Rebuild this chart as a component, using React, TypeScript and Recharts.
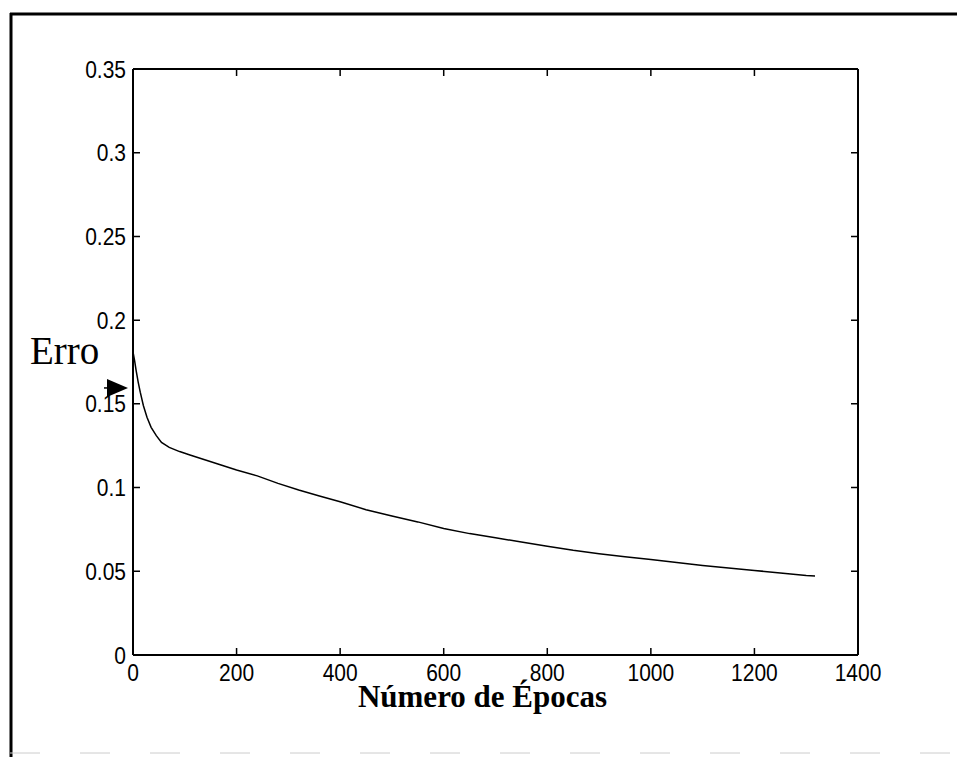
import React from "react";
import { LineChart, Line, XAxis, YAxis, ReferenceDot, ReferenceLine } from "recharts";

const epochs = [0, 3, 6, 10, 14, 20, 27, 35, 45, 55, 70, 90, 110, 140, 170, 200, 240, 280, 320, 360, 400, 450, 500, 550, 600, 650, 700, 750, 800, 850, 900, 950, 1000, 1050, 1100, 1150, 1200, 1250, 1300, 1317];
const errors = [0.181, 0.176, 0.170, 0.163, 0.157, 0.149, 0.142, 0.136, 0.131, 0.127, 0.124, 0.1215, 0.1195, 0.1165, 0.1135, 0.1105, 0.107, 0.1025, 0.0985, 0.095, 0.0915, 0.0868, 0.083, 0.0795, 0.0755, 0.0725, 0.070, 0.0675, 0.065, 0.0625, 0.0605, 0.0587, 0.057, 0.0553, 0.0535, 0.052, 0.0505, 0.049, 0.0475, 0.0472];
const xTicks = [0, 200, 400, 600, 800, 1000, 1200, 1400];
const yTicks = [0, 0.05, 0.1, 0.15, 0.2, 0.25, 0.3, 0.35];
const xTitle = "Número de Épocas";
const yTitle = "Erro";
const arrowValue = 0.1595;
const xMax = 1400;
const yMax = 0.35;

const data = epochs.map((e, i) => ({ epoch: e, erro: errors[i] }));

const W = 957;
const H = 757;
const MARGIN = { top: 69, right: 99, bottom: 60, left: 73 };
const Y_AXIS_W = 60;
const X_AXIS_H = 42;
const PLOT_RIGHT = W - MARGIN.right;
const PLOT_TOP = MARGIN.top;

const TICK_FONT = "'Liberation Sans', Arial, sans-serif";
const SERIF = "'Liberation Serif', 'Times New Roman', serif";
const AXIS_LINE = { stroke: "#000", strokeWidth: 2 };
const TL = 7;
const Y_MARGIN = 7;
const X_MARGIN = 10;

const LeftTick = (p: any) => {
  const ax = p.x + Y_MARGIN;
  return (
    <g>
      <path d={`M${ax},${p.y}H${ax + TL}M${PLOT_RIGHT - TL},${p.y}H${PLOT_RIGHT}`} stroke="#000" strokeWidth={1.5} fill="none" />
      <text
        transform={`translate(${p.x},${p.y + 8.5}) scale(1,1.15)`}
        textAnchor="end"
        fontFamily={TICK_FONT}
        fontSize={21}
        fill="#000"
        stroke="none"
      >
        {String(p.payload.value)}
      </text>
    </g>
  );
};

const BottomTick = (p: any) => {
  const ay = p.y - X_MARGIN;
  return (
    <g>
      <path d={`M${p.x},${ay}V${ay - TL}M${p.x},${PLOT_TOP}V${PLOT_TOP + TL}`} stroke="#000" strokeWidth={1.5} fill="none" />
      <text
        transform={`translate(${p.x},${p.y + 16}) scale(1,1.12)`}
        textAnchor="middle"
        fontFamily={TICK_FONT}
        fontSize={21}
        fill="#000"
        stroke="none"
      >
        {String(p.payload.value)}
      </text>
    </g>
  );
};

const ArrowShape = (p: any) => {
  const { cx, cy } = p;
  return (
    <g>
      <text x={cx - 103} y={cy - 24} fontFamily={SERIF} fontSize={39} fill="#000">
        {yTitle}
      </text>
      <line x1={cx - 29} x2={cx - 20} y1={cy} y2={cy} stroke="#000" strokeWidth={1.5} />
      <polygon points={`${cx - 26},${cy - 9} ${cx - 5},${cy} ${cx - 26},${cy + 9}`} fill="#000" />
    </g>
  );
};

const XTitle = (p: any) => {
  const vb = p.viewBox || {};
  return (
    <text
      x={vb.x + vb.width / 2 - 13}
      y={vb.y + 52}
      textAnchor="middle"
      fontFamily={SERIF}
      fontWeight="bold"
      fontSize={31}
      fill="#000"
    >
      {xTitle}
    </text>
  );
};

export default function App() {
  return (
    <div style={{ position: "absolute", left: 0, top: 0, width: W, height: H, overflow: "hidden", background: "#fff" }}>
      <svg width={W} height={H} style={{ position: "absolute", left: 0, top: 0 }}>
        <line x1={11} x2={11} y1={13} y2={H} stroke="#000" strokeWidth={3} />
        <line x1={10} x2={W} y1={14} y2={14} stroke="#000" strokeWidth={3} />
        <line x1={10} x2={W} y1={753} y2={753} stroke="#ccc" strokeWidth={1} strokeDasharray="30 40" />
      </svg>
      <div style={{ position: "absolute", left: 0, top: 0 }}>
        <LineChart width={W} height={H} data={data} margin={MARGIN}>
          <XAxis
            dataKey="epoch"
            type="number"
            domain={[0, xMax]}
            ticks={xTicks}
            height={X_AXIS_H}
            axisLine={AXIS_LINE}
            tickLine={false}
            tickSize={0}
            tickMargin={X_MARGIN}
            tick={<BottomTick />}
            interval={0}
            label={<XTitle />}
          />
          <YAxis
            type="number"
            domain={[0, yMax]}
            ticks={yTicks}
            width={Y_AXIS_W}
            axisLine={AXIS_LINE}
            tickLine={false}
            tickSize={0}
            tickMargin={Y_MARGIN}
            tick={<LeftTick />}
            interval={0}
          />
          <ReferenceLine x={xMax} stroke="#000" strokeWidth={2} ifOverflow="visible" />
          <ReferenceLine y={yMax} stroke="#000" strokeWidth={2} ifOverflow="visible" />
          <Line
            dataKey="erro"
            type="linear"
            stroke="#000"
            strokeWidth={1.5}
            dot={false}
            isAnimationActive={false}
          />
          <ReferenceDot x={0} y={arrowValue} r={0} shape={<ArrowShape />} ifOverflow="visible" />
        </LineChart>
      </div>
    </div>
  );
}
